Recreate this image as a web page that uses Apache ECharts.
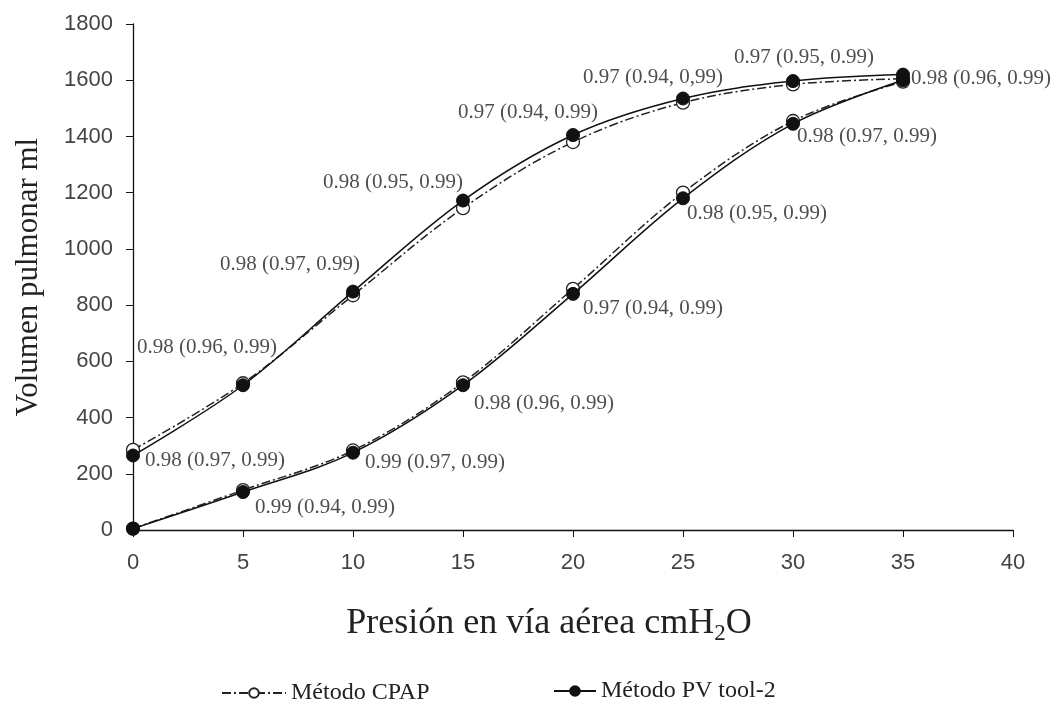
<!DOCTYPE html>
<html>
<head>
<meta charset="utf-8">
<script src="https://cdn.jsdelivr.net/npm/echarts@6/dist/echarts.min.js"></script>
<style>html,body{margin:0;padding:0;background:#fff}#c{width:1054px;height:705px}</style>
</head>
<body>
<div id="c"></div>
<script>
const xValues = [0, 5, 10, 15, 20, 25, 30, 35];
const cpapUpper = [285, 522, 835, 1145, 1380, 1520, 1585, 1605];
const cpapLower = [5, 142, 283, 525, 858, 1200, 1455, 1595];
const pvUpper = [265, 515, 848, 1172, 1405, 1535, 1597, 1620];
const pvLower = [5, 135, 275, 515, 840, 1180, 1445, 1600];
const upperLabels = ['0.98 (0.97, 0.99)', '0.98 (0.96, 0.99)', '0.98 (0.97, 0.99)', '0.98 (0.95, 0.99)', '0.97 (0.94, 0.99)', '0.97 (0.94, 0,99)', '0.97 (0.95, 0.99)', '0.98 (0.96, 0.99)'];
const lowerLabels = [null, '0.99 (0.94, 0.99)', '0.99 (0.97, 0.99)', '0.98 (0.96, 0.99)', '0.97 (0.94, 0.99)', '0.98 (0.95, 0.99)', '0.98 (0.97, 0.99)', null];
const xTicks = [0, 40, 5];
const yTicks = [0, 1800, 200];

// label offsets (style only)
const upperOffsets = [[12, 5], [-106, -38], [-133, -27], [-140, -18], [-115, -23], [-100, -21], [-59, -24], [8, 4]];
const lowerOffsets = [null, [12, 15], [12, 10], [11, 18], [10, 15], [4, 15], [4, 13], null];

const ink = '#111';
const serif = '"Liberation Serif", "DejaVu Serif", serif';
const sans = '"Liberation Sans", Arial, sans-serif';

function pairs(ys) { return xValues.map((x, i) => [x, ys[i]]); }

const labelData = [];
xValues.forEach((x, i) => {
  if (upperLabels[i]) labelData.push({ value: [x, pvUpper[i]], text: upperLabels[i], off: upperOffsets[i] });
  if (lowerLabels[i]) labelData.push({ value: [x, pvLower[i]], text: lowerLabels[i], off: lowerOffsets[i] });
});

const cpapLine = { color: '#222', width: 1.5, type: [9, 3, 2, 3] };
const pvLine = { color: ink, width: 1.5, type: 'solid' };
const cpapItem = { color: '#fff', borderColor: '#222', borderWidth: 1.3 };
const pvItem = { color: ink, borderColor: ink, borderWidth: 1 };

const chart = echarts.init(document.getElementById('c'));
chart.setOption({
  animation: false,
  backgroundColor: '#fff',
  grid: { left: 133, right: 41, top: 24, bottom: 175 },
  legend: [
    { data: ['Método CPAP'], left: 216, top: 676, itemWidth: 64, itemHeight: 12, itemGap: 4,
      textStyle: { fontFamily: serif, fontSize: 24, color: '#222' } },
    { data: ['Método PV tool-2'], left: 548, top: 674, itemWidth: 42, itemHeight: 12, itemGap: 4,
      textStyle: { fontFamily: serif, fontSize: 24, color: '#222' } }
  ],
  xAxis: {
    type: 'value', min: xTicks[0], max: xTicks[1], interval: xTicks[2],
    name: 'Presión en vía aérea cmH{sub|2}O', nameLocation: 'middle', nameGap: 72,
    nameTextStyle: { fontFamily: serif, fontSize: 36, color: '#222', padding: [0, 48, 0, 0],
      rich: { sub: { fontFamily: serif, fontSize: 23, color: '#222', padding: [20, 0, 0, 0] } } },
    axisLine: { lineStyle: { color: ink, width: 1.3 } },
    axisTick: { show: true, length: 7, lineStyle: { color: ink } },
    axisLabel: { fontFamily: sans, fontSize: 22, color: '#444', margin: 22 },
    splitLine: { show: false }
  },
  yAxis: {
    type: 'value', min: yTicks[0], max: yTicks[1], interval: yTicks[2],
    name: 'Volumen pulmonar ml', nameLocation: 'middle', nameGap: 89,
    nameTextStyle: { fontFamily: serif, fontSize: 31, color: '#222' },
    axisLine: { show: true, lineStyle: { color: ink, width: 1.3 } },
    axisTick: { show: true, length: 7, lineStyle: { color: ink } },
    axisLabel: { fontFamily: sans, fontSize: 22, color: '#444', margin: 20, formatter: v => String(v) },
    splitLine: { show: false }
  },
  series: [
    { name: 'Método CPAP', type: 'line', smooth: 0.35, data: pairs(cpapUpper), symbol: 'circle', symbolSize: 13,
      lineStyle: cpapLine, itemStyle: cpapItem, z: 2 },
    { name: 'Método CPAP', type: 'line', smooth: 0.35, data: pairs(cpapLower), symbol: 'circle', symbolSize: 13,
      lineStyle: cpapLine, itemStyle: cpapItem, z: 2 },
    { name: 'Método PV tool-2', type: 'line', smooth: 0.35, data: pairs(pvUpper), symbol: 'circle', symbolSize: 13,
      lineStyle: pvLine, itemStyle: pvItem, z: 3 },
    { name: 'Método PV tool-2', type: 'line', smooth: 0.35, data: pairs(pvLower), symbol: 'circle', symbolSize: 13,
      lineStyle: pvLine, itemStyle: pvItem, z: 3 },
    { name: 'labels', type: 'scatter', symbolSize: 1, itemStyle: { color: 'rgba(0,0,0,0)' }, z: 4, silent: true,
      data: labelData.map(d => ({
        value: d.value,
        label: { show: true, position: 'inside', align: 'left', verticalAlign: 'middle', offset: d.off,
          formatter: d.text, fontFamily: serif, fontSize: 21, color: '#222' }
      })) }
  ]
});
</script>
</body>
</html>
